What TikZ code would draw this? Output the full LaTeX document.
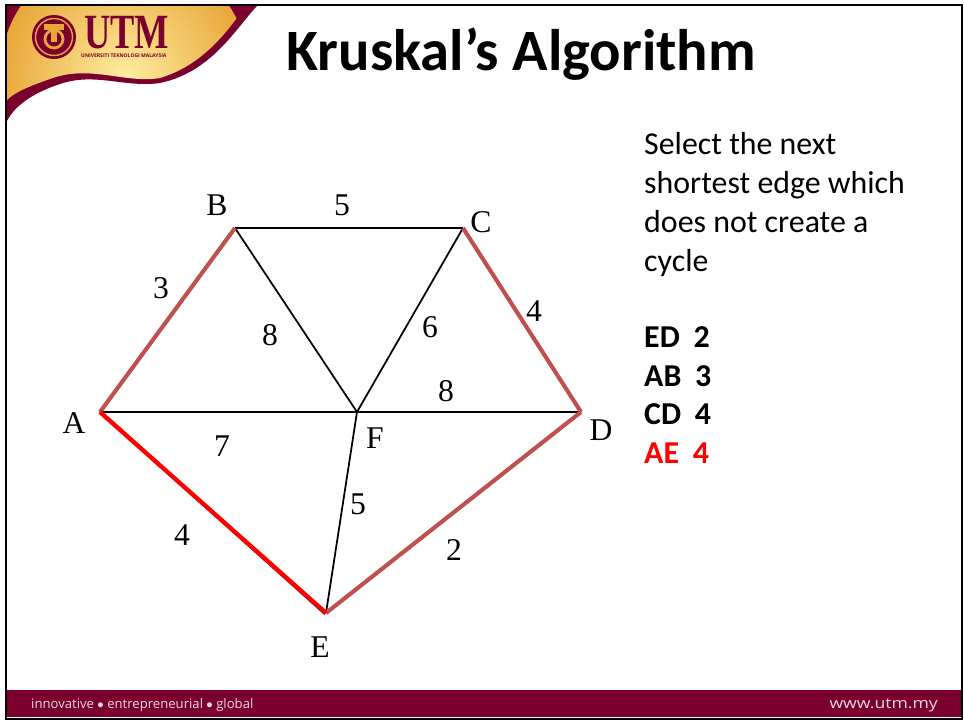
\documentclass[tikz,border=0pt]{standalone}
\usepackage{xcolor}
\usepackage{fontspec}
\setmainfont{Liberation Serif}
\setsansfont{Carlito}
\newfontfamily\footfont{Open Sans}
\usetikzlibrary{positioning}
\definecolor{utmmaroon}{RGB}{122,0,46}
\definecolor{utmgold}{RGB}{232,168,56}
\definecolor{utmpale}{RGB}{255,236,160}
\definecolor{edgeold}{RGB}{192,80,77}

\begin{document}
\begin{tikzpicture}[
    x=0.03cm, y=-0.03cm,
    vertex/.style={inner sep=0pt, font=\fontsize{27}{27}\selectfont},
    weight/.style={inner sep=0pt, font=\fontsize{27}{27}\selectfont},
    thin edge/.style={draw=black, line width=1.5pt},
    chosen/.style={draw=edgeold, line width=3.5pt},
    newest/.style={draw=red, line width=3.7pt},
    side/.style={inner sep=0pt, anchor=base west, font=\sffamily\fontsize{27.2}{27}\selectfont},
    pick/.style={side, font=\sffamily\bfseries\fontsize{27.2}{27}\selectfont},
]
\useasboundingbox (0,0) rectangle (964,723);

% Slide frame and footer
\fill[white] (0,0) rectangle (964,723);
\fill[utmmaroon] (6,690) rectangle (962,717);
\draw[black, line width=2.4pt] (6,5) rectangle (962,719);
\node[inner sep=0pt, anchor=west, text=white!85!utmmaroon, font=\footfont\fontsize{11.2}{12}\selectfont] (motto) at (31,705) {innovative $\bullet$ entrepreneurial $\bullet$ global};
\node[inner sep=0pt, anchor=east, xscale=1.2, text=white!85!utmmaroon, font=\footfont\fontsize{12.5}{13}\selectfont] (site) at (938,705) {www.utm.my};

% Banner
\fill[utmmaroon] (7,6) -- (257,6) .. controls (236,28) and (212,72) .. (160,83)
    .. controls (125,88) and (95,72) .. (60,84) .. controls (35,92) and (15,105) .. (7,121) -- cycle;
\begin{scope}
\clip (7,6) -- (245,6) .. controls (226,35) and (200,66) .. (160,78)
    .. controls (125,84) and (90,64) .. (50,79) .. controls (30,86) and (15,92) .. (7,100) -- cycle;
\shade[inner color=utmpale, outer color=utmgold] (125,75) circle (125);
\end{scope}
\fill[utmmaroon] (54,37) circle (22);
\draw[utmgold, line width=1.2pt] (54,37) circle (18.5);
\draw[utmgold, line width=2.4pt] (54,39) circle (9);
\fill[utmgold] (44,24) rectangle (64,30);
\fill[utmgold] (51,30) rectangle (57,42);
\node[inner sep=0pt, anchor=base west, text=utmmaroon, xscale=0.74, font=\bfseries\fontsize{42}{42}\selectfont] (utm) at (84,48) {UTM};
\node[inner sep=0pt, anchor=west, text=utmmaroon, font=\footfont\bfseries\fontsize{4.3}{5}\selectfont] (uni) at (81,55.5) {UNIVERSITI TEKNOLOGI MALAYSIA};

% Title
\node[inner sep=0pt, font=\sffamily\bfseries\fontsize{50}{50}\selectfont] (title) at (521,54) {Kruskal's Algorithm};

% Graph corners
\coordinate (a) at (100,412);
\coordinate (b) at (235,228);
\coordinate (c) at (463,228);
\coordinate (d) at (581,412);
\coordinate (e) at (326,613);
\coordinate (f) at (357,412);

% Edges
\draw[thin edge] (b) -- (c);
\draw[thin edge] (a) -- (f);
\draw[thin edge] (f) -- (d);
\draw[thin edge] (b) -- (f);
\draw[thin edge] (c) -- (f);
\draw[thin edge] (e) -- (f);
\draw[thin edge] (a) -- ([xshift=-1pt,yshift=-1pt]e);
\draw[chosen] (a) -- (b);
\draw[chosen] (c) -- (d);
\draw[chosen] (d) -- (e);
\draw[newest] (a) -- (e);

% Corner names
\node[vertex] (la) at (74,423) {A};
\node[vertex] (lb) at (217,205) {B};
\node[vertex] (lc) at (481,222) {C};
\node[vertex] (ld) at (601,430) {D};
\node[vertex] (le) at (320,647) {E};
\node[vertex] (lf) at (375,438) {F};

% Edge weights
\node[weight] (wbc) at (342,205) {5};
\node[weight] (wab) at (161,288) {3};
\node[weight] (wbf) at (270,335) {8};
\node[weight] (wcf) at (430,327) {6};
\node[weight] (wcd) at (534,311) {4};
\node[weight] (wfd) at (446,391) {8};
\node[weight] (waf) at (222,446) {7};
\node[weight] (wef) at (358,504) {5};
\node[weight] (wae) at (182,535) {4};
\node[weight] (wde) at (454,550) {2};

% Side text
\node[side] (t1) at (644,154) {Select the next};
\node[side] (t2) at (644,193) {shortest edge which};
\node[side] (t3) at (644,232) {does not create a};
\node[side] (t4) at (644,271) {cycle};
\node[pick] (p1) at (644,347) {ED~\,\kern1pt 2};
\node[pick] (p2) at (644,386) {AB~\,\kern1pt 3};
\node[pick] (p3) at (644,424) {CD~\,\kern1pt 4};
\node[pick, text=red] (p4) at (644,463) {AE~\,\kern1pt 4};

\end{tikzpicture}
\end{document}
